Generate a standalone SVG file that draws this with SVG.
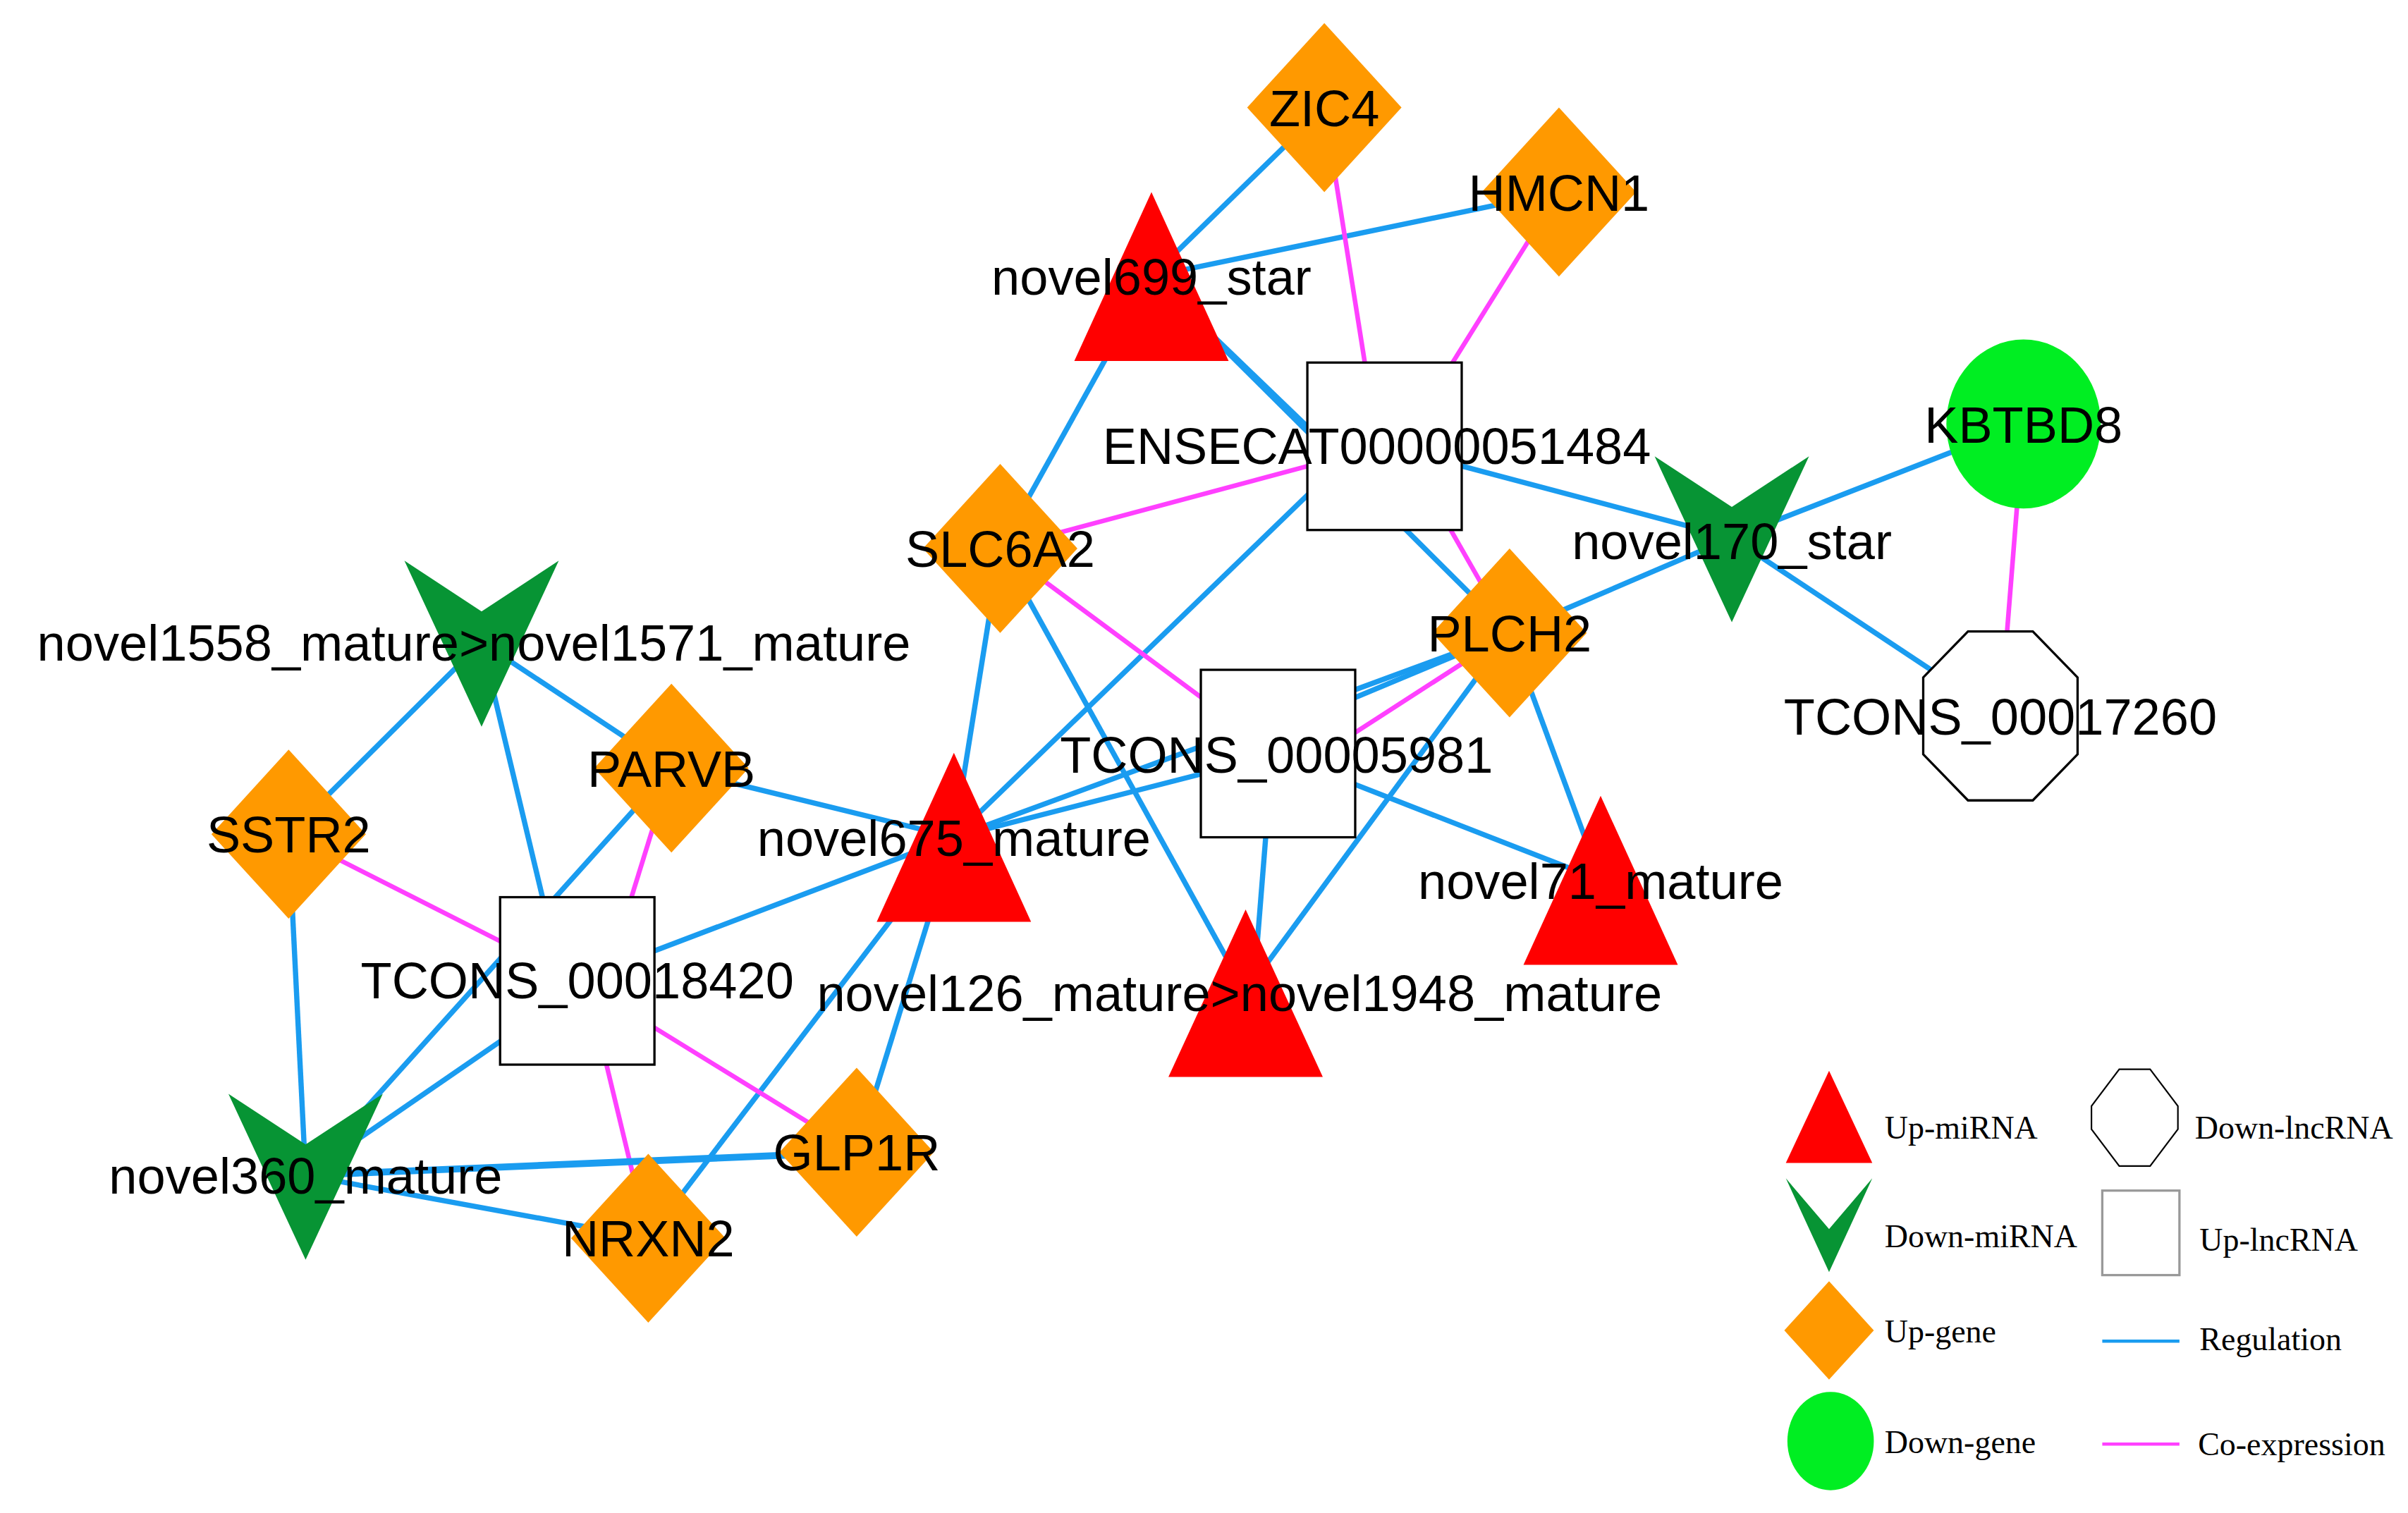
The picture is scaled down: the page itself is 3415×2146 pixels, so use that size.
<svg xmlns="http://www.w3.org/2000/svg" width="3415" height="2146" viewBox="0 0 3415 2146">
<style>
.r{stroke:#1a9cf0;stroke-width:3.4;fill:none}
.c{stroke:#ff40ff;stroke-width:3;fill:none}
.tri{fill:#ff0000}
.v{fill:#079434}
.dia{fill:#ff9900}
.box{fill:#fff;stroke:#000;stroke-width:1.5}
.lb{font-family:"Liberation Sans",Arial,sans-serif;font-size:33px;fill:#000;text-anchor:middle}
.lg{font-family:"Liberation Serif","Times New Roman",serif;font-size:21px;fill:#000}
</style>
<rect width="3415" height="2146" fill="#fff"/>
<g transform="scale(2.189,2.179)">
<g id="connectors">
<line class="r" x1="858" y1="70" x2="746" y2="180"/>
<line class="r" x1="1010" y1="125" x2="746" y2="180"/>
<line class="c" x1="858" y1="70" x2="888" y2="260"/>
<line class="c" x1="1010" y1="125" x2="920" y2="270"/>
<line class="r" x1="746" y1="180" x2="870" y2="300"/>
<line class="r" x1="746" y1="180" x2="978" y2="412"/>
<line class="r" x1="746" y1="180" x2="648" y2="357"/>
<line class="c" x1="897" y1="290" x2="648" y2="357"/>
<line class="r" x1="897" y1="290" x2="1122" y2="350"/>
<line class="c" x1="920" y1="310" x2="978" y2="412"/>
<line class="r" x1="870" y1="300" x2="618" y2="545"/>
<line class="r" x1="1311" y1="276" x2="1122" y2="350"/>
<line class="c" x1="1311" y1="276" x2="1296" y2="466"/>
<line class="r" x1="1122" y1="350" x2="1296" y2="466"/>
<line class="r" x1="1122" y1="350" x2="978" y2="412"/>
<line class="c" x1="648" y1="357" x2="828" y2="491"/>
<line class="r" x1="648" y1="357" x2="618" y2="545"/>
<line class="r" x1="648" y1="357" x2="807" y2="646"/>
<line class="r" x1="978" y1="412" x2="840" y2="470"/>
<line class="c" x1="978" y1="412" x2="850" y2="495"/>
<line class="r" x1="978" y1="412" x2="618" y2="545"/>
<line class="r" x1="618" y1="545" x2="828" y2="491"/>
<line class="r" x1="978" y1="412" x2="1037" y2="573"/>
<line class="r" x1="978" y1="412" x2="807" y2="646"/>
<line class="r" x1="420" y1="806" x2="618" y2="545"/>
<line class="r" x1="828" y1="491" x2="1037" y2="573"/>
<line class="r" x1="822" y1="520" x2="812" y2="646"/>
<line class="r" x1="312" y1="418" x2="187" y2="543"/>
<line class="r" x1="312" y1="418" x2="435" y2="500"/>
<line class="r" x1="312" y1="418" x2="360" y2="620"/>
<line class="r" x1="435" y1="500" x2="618" y2="545"/>
<line class="r" x1="435" y1="500" x2="198" y2="765"/>
<line class="c" x1="435" y1="500" x2="398" y2="620"/>
<line class="c" x1="187" y1="543" x2="374" y2="638"/>
<line class="r" x1="187" y1="543" x2="198" y2="765"/>
<line class="r" x1="374" y1="638" x2="618" y2="545"/>
<line class="r" x1="350" y1="660" x2="198" y2="765"/>
<line class="c" x1="385" y1="660" x2="420" y2="806"/>
<line class="c" x1="374" y1="638" x2="555" y2="750"/>
<line class="r" x1="198" y1="765" x2="555" y2="750" style="stroke-width:4.5"/>
<line class="r" x1="198" y1="765" x2="420" y2="806"/>
<line class="r" x1="555" y1="750" x2="618" y2="545"/>
</g>
<g id="ZIC4"><polygon class="dia" points="858,15 908,70 858,125 808,70"/><text class="lb" x="858" y="82">ZIC4</text></g>
<g id="HMCN1"><polygon class="dia" points="1010,70 1060,125 1010,180 960,125"/><text class="lb" x="1010" y="137">HMCN1</text></g>
<g id="novel699_star"><polygon class="tri" points="746,125 796,235 696,235"/><text class="lb" x="746" y="192">novel699_star</text></g>
<g id="ENSECAT00000051484"><rect class="box" x="847" y="236" width="100" height="109"/><text class="lb" x="892" y="302">ENSECAT00000051484</text></g>
<g id="KBTBD8"><ellipse cx="1311" cy="276" rx="50" ry="55" fill="#00ee22"/><text class="lb" x="1311" y="288">KBTBD8</text></g>
<g id="novel170_star"><polygon class="v" points="1072,297 1122,330 1172,297 1122,405"/><text class="lb" x="1122" y="364">novel170_star</text></g>
<g id="SLC6A2"><polygon class="dia" points="648,302 698,357 648,412 598,357"/><text class="lb" x="648" y="369">SLC6A2</text></g>
<g id="novel1558"><polygon class="v" points="262,365 312,398 362,365 312,473"/><text class="lb" x="307" y="430">novel1558_mature&gt;novel1571_mature</text></g>
<g id="PLCH2"><polygon class="dia" points="978,357 1028,412 978,467 928,412"/><text class="lb" x="978" y="424">PLCH2</text></g>
<g id="TCONS_00017260"><polygon points="1275,411 1317,411 1346,441 1346,491 1317,521 1275,521 1246,491 1246,441" fill="#fff" stroke="#000" stroke-width="1.5"/><text class="lb" x="1296" y="478">TCONS_00017260</text></g>
<g id="TCONS_00005981"><rect class="box" x="778" y="436" width="100" height="109"/><text class="lb" x="827" y="503">TCONS_00005981</text></g>
<g id="PARVB"><polygon class="dia" points="435,445 485,500 435,555 385,500"/><text class="lb" x="435" y="512">PARVB</text></g>
<g id="novel675_mature"><polygon class="tri" points="618,490 668,600 568,600"/><text class="lb" x="618" y="557">novel675_mature</text></g>
<g id="SSTR2"><polygon class="dia" points="187,488 237,543 187,598 137,543"/><text class="lb" x="187" y="555">SSTR2</text></g>
<g id="novel71_mature"><polygon class="tri" points="1037,518 1087,628 987,628"/><text class="lb" x="1037" y="585">novel71_mature</text></g>
<g id="TCONS_00018420"><rect class="box" x="324" y="584" width="100" height="109"/><text class="lb" x="374" y="650">TCONS_00018420</text></g>
<g id="novel126"><polygon class="tri" points="807,592 857,701 757,701"/><text class="lb" x="803" y="658">novel126_mature&gt;novel1948_mature</text></g>
<g id="novel360_mature"><polygon class="v" points="148,712 198,745 248,712 198,820"/><text class="lb" x="198" y="777">novel360_mature</text></g>
<g id="GLP1R"><polygon class="dia" points="555,695 605,750 555,805 505,750"/><text class="lb" x="555" y="762">GLP1R</text></g>
<g id="NRXN2"><polygon class="dia" points="420,751 470,806 420,861 370,806"/><text class="lb" x="420" y="818">NRXN2</text></g>
<g id="legend">
<polygon class="tri" points="1185,697 1213,757 1157,757"/>
<polygon class="v" points="1157,767 1185,800 1213,767 1185,828"/>
<polygon class="dia" points="1185,834 1214,866 1185,898 1156,866"/>
<ellipse cx="1186" cy="938" rx="28" ry="32" fill="#00ee22"/>
<polygon points="1373,696 1393,696 1411,720 1411,735 1393,759 1373,759 1355,735 1355,720" fill="#fff" stroke="#000" stroke-width="1"/>
<rect x="1362" y="775" width="50" height="55" fill="#fff" stroke="#999" stroke-width="1.5"/>
<line x1="1362" y1="873" x2="1412" y2="873" stroke="#1a9cf0" stroke-width="2"/>
<line x1="1362" y1="940" x2="1412" y2="940" stroke="#ff40ff" stroke-width="2"/>
<text class="lg" x="1221" y="741">Up-miRNA</text>
<text class="lg" x="1221" y="812">Down-miRNA</text>
<text class="lg" x="1221" y="874">Up-gene</text>
<text class="lg" x="1221" y="946">Down-gene</text>
<text class="lg" x="1422" y="741">Down-lncRNA</text>
<text class="lg" x="1425" y="814">Up-lncRNA</text>
<text class="lg" x="1425" y="879">Regulation</text>
<text class="lg" x="1424" y="947">Co-expression</text>
</g>
</g>
</svg>
